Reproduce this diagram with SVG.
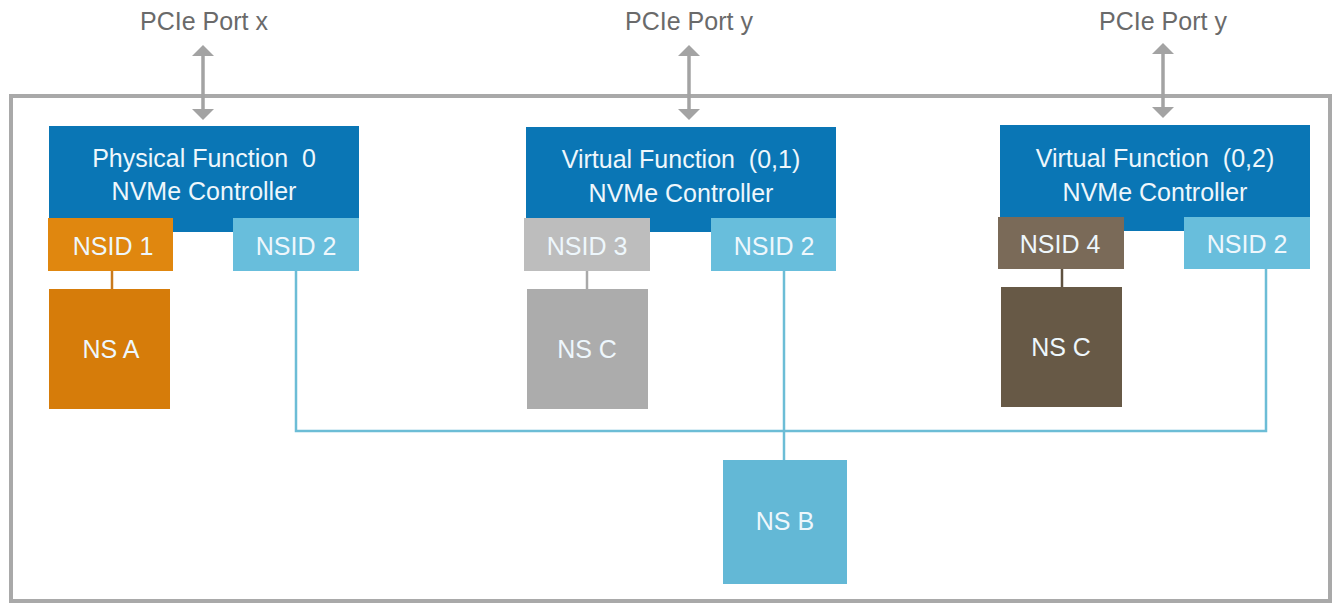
<svg xmlns="http://www.w3.org/2000/svg" width="1334" height="603" viewBox="0 0 1334 603">
<defs>
<style>
.lbl{font-family:"Liberation Sans",Arial,sans-serif;font-size:25px;text-anchor:middle;white-space:pre}
.port{fill:#6a6a6a}
.w{fill:#eef7fc}
.ctrl{fill:#0a76b5}
.nsid2{fill:#68bedc}
.conn{fill:none;stroke-width:2.5}
.arr{stroke:#a3a3a3;stroke-width:3.5;fill:none}
.head{fill:#a3a3a3}
</style>
</defs>
<rect width="1334" height="603" fill="#ffffff"/>
<rect id="frame" x="11" y="96" width="1319" height="505" fill="none" stroke="#a9a9a9" stroke-width="4"/>

<g id="port-x"><text class="lbl port" x="204" y="30">PCIe Port x</text></g>
<g id="port-y1"><text class="lbl port" x="689" y="30">PCIe Port y</text></g>
<g id="port-y2"><text class="lbl port" x="1163" y="30">PCIe Port y</text></g>

<g id="pf0">
<rect class="ctrl" x="49" y="126" width="310" height="106"/>
<text class="lbl w" x="204" y="167" xml:space="preserve">Physical Function  0</text>
<text class="lbl w" x="204" y="200">NVMe Controller</text>
</g>
<g id="pf0-nsid1"><rect x="48" y="218" width="125" height="53" fill="#e0870f"/><text class="lbl w" x="113" y="255">NSID 1</text></g>
<g id="pf0-nsid2"><rect class="nsid2" x="233" y="218" width="126" height="53"/><text class="lbl w" x="296" y="255">NSID 2</text></g>
<g id="ns-a"><rect x="49" y="289" width="121" height="120" fill="#d67c0a"/><text class="lbl w" x="111" y="358">NS A</text></g>

<g id="vf01">
<rect class="ctrl" x="526" y="127" width="310" height="105"/>
<text class="lbl w" x="681" y="168" xml:space="preserve">Virtual Function  (0,1)</text>
<text class="lbl w" x="681" y="202">NVMe Controller</text>
</g>
<g id="vf01-nsid3"><rect x="524" y="218" width="126" height="53" fill="#bdbdbd"/><text class="lbl w" x="587" y="255">NSID 3</text></g>
<g id="vf01-nsid2"><rect class="nsid2" x="711" y="218" width="125" height="53"/><text class="lbl w" x="774" y="255">NSID 2</text></g>
<g id="ns-c1"><rect x="527" y="289" width="121" height="120" fill="#acacac"/><text class="lbl w" x="587" y="358">NS C</text></g>

<g id="vf02">
<rect class="ctrl" x="1000" y="125" width="310" height="106"/>
<text class="lbl w" x="1155" y="167" xml:space="preserve">Virtual Function  (0,2)</text>
<text class="lbl w" x="1155" y="201">NVMe Controller</text>
</g>
<g id="vf02-nsid4"><rect x="998" y="217" width="126" height="52" fill="#7a6a58"/><text class="lbl w" x="1060" y="253">NSID 4</text></g>
<g id="vf02-nsid2"><rect class="nsid2" x="1184" y="217" width="126" height="52"/><text class="lbl w" x="1247" y="253">NSID 2</text></g>
<g id="ns-c2"><rect x="1001" y="287" width="121" height="120" fill="#675946"/><text class="lbl w" x="1061" y="356">NS C</text></g>

<g id="ns-b"><rect x="723" y="460" width="124" height="124" fill="#63b8d6"/><text class="lbl w" x="785" y="530">NS B</text></g>

<g id="connectors">
<line class="arr" x1="203" y1="55" x2="203" y2="110"/>
<polygon class="head" points="203,45 214,56 192,56"/>
<polygon class="head" points="203,120 214,109 192,109"/>
<line class="arr" x1="689" y1="55" x2="689" y2="110"/>
<polygon class="head" points="689,45 700,56 678,56"/>
<polygon class="head" points="689,120 700,109 678,109"/>
<line class="arr" x1="1163" y1="53" x2="1163" y2="108"/>
<polygon class="head" points="1163,43 1174,54 1152,54"/>
<polygon class="head" points="1163,118 1174,107 1152,107"/>
<line class="conn" stroke="#c97a1c" x1="112" y1="271" x2="112" y2="289"/>
<line class="conn" stroke="#a9a9a9" x1="587" y1="271" x2="587" y2="289"/>
<line class="conn" stroke="#5f5240" x1="1062" y1="269" x2="1062" y2="287"/>
<polyline class="conn" stroke="#6cbdd6" points="296,271 296,431 1266,431 1266,269"/>
<line class="conn" stroke="#6cbdd6" x1="784" y1="271" x2="784" y2="460"/>
</g>
</svg>
